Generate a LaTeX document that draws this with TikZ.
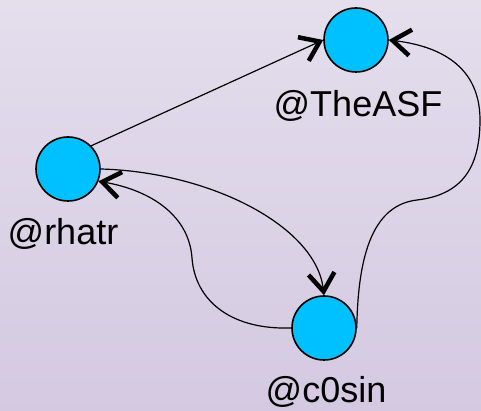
\documentclass[tikz,border=0pt]{standalone}
\usepackage{fontspec}
\setmainfont{Liberation Sans}
\usetikzlibrary{arrows.meta}
\definecolor{bgtop}{RGB}{228,222,237}
\definecolor{bgbot}{RGB}{212,201,225}
\definecolor{nodefill}{RGB}{0,193,255}
\begin{document}
\begin{tikzpicture}[x=1pt,y=1pt,
  user/.style={circle, draw=black, line width=1.6pt, fill=nodefill, minimum size=64pt, inner sep=0pt},
  lbl/.style={anchor=base, font=\fontsize{36}{40}\selectfont, inner sep=0pt},
  link/.style={line width=1.2pt, -{Straight Barb[length=18pt,width=26pt,line width=4.5pt]}}]
\shade[top color=bgtop, bottom color=bgbot] (0,0) rectangle (481,411);
\useasboundingbox (0,0) rectangle (481,411);
\node[user] (asf) at (356,371) {};
\node[user] (rh) at (68,242) {};
\node[user] (c0) at (324,83) {};
\node[lbl] (asfl) at (358,294) {@TheASF};
\node[lbl] (rhl) at (63,166) {@rhatr};
\node[lbl] (c0l) at (326,8) {@c0sin};
\draw[link] (rh.north east) -- (asf.west);
\draw[link] (rh.east) .. controls (210,239) and (316,185) .. (c0.north);
\draw[link] (c0.west) .. controls (230,81) and (195,111) .. (192,153) .. controls (189,196) and (150,221) .. (rh.-22);
\draw[link] (c0.east) .. controls (358,161) and (375,206) .. (417,211) .. controls (460,216) and (480,241) .. (480,291) .. controls (480,351) and (430,366) .. (asf.east);
\end{tikzpicture}
\end{document}
